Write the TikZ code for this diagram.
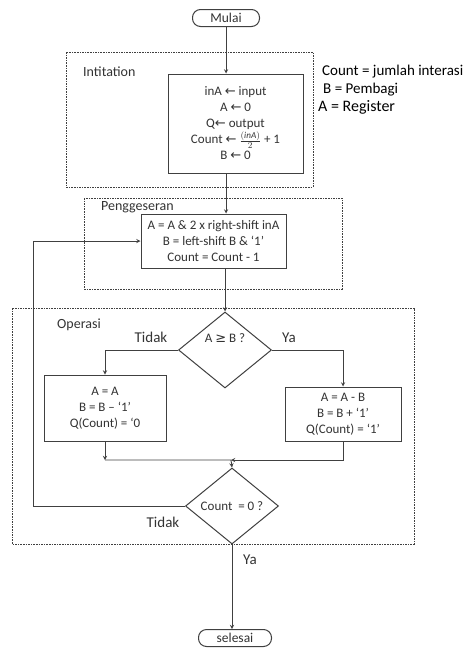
\documentclass[tikz,border=0pt]{standalone}
\usepackage{fontspec}
\setmainfont{Carlito}
\newfontfamily\symfont{DejaVu Sans}
\usepackage{tikz}
\usetikzlibrary{shapes.geometric, arrows.meta}
\definecolor{LineGray}{HTML}{404040}
\definecolor{TextGray}{HTML}{333333}
\newcommand{\assign}{{\symfont ←}}
\newcommand{\geqsym}{{\symfont ≥}}
\tikzset{
  groupframe/.style={draw=LineGray, line width=0.8pt, dash pattern=on 1.6pt off 1pt},
  framelabel/.style={anchor=west, inner sep=0pt, font=\fontsize{14}{16}\selectfont, text=TextGray},
  procbox/.style={rectangle, draw=LineGray, line width=1pt, fill=white, align=center, inner sep=2pt, font=\fontsize{13}{16}\selectfont, text=TextGray},
  termbox/.style={rectangle, rounded corners=8pt, draw=LineGray, line width=1pt, fill=white, minimum height=17pt, inner sep=0pt, font=\fontsize{13.5}{16}\selectfont, text=TextGray},
  decbox/.style={diamond, draw=LineGray, line width=1pt, fill=white, minimum width=93pt, minimum height=76pt, inner sep=0pt, font=\fontsize{13}{16}\selectfont, text=TextGray},
  branchlabel/.style={inner sep=0pt, font=\fontsize{15}{17}\selectfont, text=TextGray},
  notelabel/.style={anchor=west, inner sep=0pt, font=\fontsize{15}{18}\selectfont, text=black},
  arrow/.style={->, >=stealth, line width=0.9pt, LineGray}
}
\begin{document}
\begin{tikzpicture}[x=1pt, y=-1pt]
  \useasboundingbox (0,0) rectangle (472,648);

  % Start
  \node[termbox, minimum width=67pt] (mulai) at (226,18) {Mulai};

  % Intitation
  \draw[groupframe] (66,52) rectangle (313,187);
  \node[framelabel] (initlabel) at (83,72) {Intitation};
  \node[procbox, minimum width=135pt, minimum height=99pt] (initbox) at (235.5,123.5)
    {inA \assign{} input\\ A \assign{} 0\\ Q\assign{} output\\ Count \assign{} $\frac{(\mathit{inA})}{2}$ + 1\\ B \assign{} 0};

  % Notes
  \node[notelabel] (noteCount) at (322,72) {Count = jumlah interasi};
  \node[notelabel] (noteB) at (323,90) {B = Pembagi};
  \node[notelabel, font=\fontsize{16}{18}\selectfont] (noteA) at (318,107) {A = Register};

  % Penggeseran
  \draw[groupframe] (84,198) rectangle (342,289);
  \node[framelabel] (shiftlabel) at (101,207) {Penggeseran};
  \node[procbox, minimum width=145pt, minimum height=54pt] (shiftbox) at (213.5,241)
    {A = A \& 2 x right-shift inA\\ B = left-shift B \& ‘1’\\ Count = Count - 1};

  % Operasi
  \draw[groupframe] (12,308) rectangle (414,544);
  \node[framelabel] (oplabel) at (57,325) {Operasi};
  \node[decbox, label={[font=\fontsize{13}{16}\selectfont, text=TextGray, yshift=12pt]center:A \geqsym{} B ?}] (cmpAB) at (225,350) {};
  \node[branchlabel] (tidakAB) at (151,337) {Tidak};
  \node[branchlabel] (yaAB) at (289,338) {Ya};

  \node[procbox, minimum width=122pt, minimum height=66pt] (leftbox) at (105,408)
    {A = A\\ B = B – ‘1’\\ Q(Count) = ‘0};
  \node[procbox, minimum width=116pt, minimum height=54pt] (rightbox) at (343,414)
    {A = A - B\\ B = B + ‘1’\\ Q(Count) = ‘1’};

  \node[decbox] (cnt) at (232,506) {Count~~= 0 ?};
  \node[branchlabel] (tidakCnt) at (163,522) {Tidak};

  % End
  \node[branchlabel] (yaCnt) at (250,560) {Ya};
  \node[termbox, minimum width=73pt] (selesai) at (235,638) {selesai};

  % Connectors
  \coordinate (merge) at (231,460);
  \coordinate (loopx) at (33,506);

  \draw[arrow] (mulai.south) -- (mulai.south |- initbox.north);
  \draw[arrow] (mulai.south |- initbox.south) -- (mulai.south |- shiftbox.north);
  \draw[arrow] (shiftbox.south -| cmpAB) -- (cmpAB.north);
  \draw[arrow] (cmpAB.west) -| (leftbox.north);
  \draw[arrow] (cmpAB.east) -| (rightbox.north);
  \draw[arrow] (leftbox.south) -- (leftbox.south |- merge);
  \draw[arrow] (leftbox.south |- merge) -- (merge) -- (cnt.north);
  \draw[arrow] (rightbox.south) |- (merge);
  \draw[arrow] (cnt.west) -- (loopx) |- (shiftbox.west);
  \draw[arrow] (cnt.south) -- (cnt.south |- selesai.north);
\end{tikzpicture}
\end{document}
